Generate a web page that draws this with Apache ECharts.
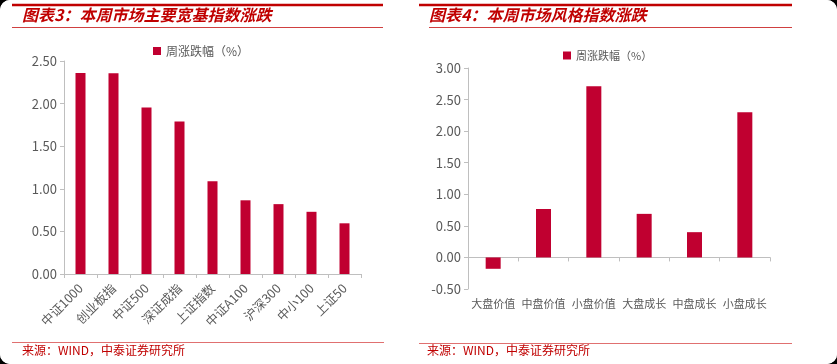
<!DOCTYPE html>
<html><head><meta charset="utf-8">
<script src="https://cdn.jsdelivr.net/npm/echarts@6/dist/echarts.min.js"></script>
<style>
html,body{margin:0;padding:0;background:#000;}
#c{width:837px;height:364px;background:#fff;border-radius:10px;overflow:hidden;}
</style></head>
<body><div id="c"></div>
<script>
const leftCategories = ['中证1000','创业板指','中证500','深证成指','上证指数','中证A100','沪深300','中小100','上证50'];
const leftValues = [2.36, 2.355, 1.955, 1.79, 1.09, 0.865, 0.82, 0.73, 0.595];
const rightCategories = ['大盘价值','中盘价值','小盘价值','大盘成长','中盘成长','小盘成长'];
const rightValues = [-0.18, 0.767, 2.71, 0.69, 0.40, 2.30];
const seriesName = '周涨跌幅（%）';
const leftTitle = '图表3：本周市场主要宽基指数涨跌';
const rightTitle = '图表4：本周市场风格指数涨跌';
const sourceText = '来源：WIND，中泰证券研究所';

const RED = '#c00030';
const TITLE_RED = '#c00000';
const GREY = '#595959';
const AXIS = '#bfbfbf';
const FONT = '"Noto Sans CJK SC", "Liberation Sans", sans-serif';

const chart = echarts.init(document.getElementById('c'), null, {renderer:'canvas'});

function yAxisCfg(gi, min, max) {
  return {
    type:'value', gridIndex:gi, min:min, max:max, interval:0.5,
    axisLine:{show:true, lineStyle:{color:AXIS, width:1}},
    axisTick:{show:true, length:4, lineStyle:{color:AXIS}},
    splitLine:{show:false},
    axisLabel:{color:GREY, fontSize:13, fontFamily:FONT, margin:7,
      formatter: v => v.toFixed(2)}
  };
}

const option = {
  animation:false,
  backgroundColor:'#fff',
  legend:[
    {left:148, top:40, itemWidth:8, itemHeight:8, icon:'rect', itemGap:5,
     data:[seriesName], textStyle:{color:GREY, fontSize:12, fontFamily:FONT}},
    {left:558, top:45, itemWidth:8, itemHeight:8, icon:'rect', itemGap:4,
     data:[seriesName], textStyle:{color:GREY, fontSize:11, fontFamily:FONT}}
  ],
  grid:[
    {left:64, top:61, width:297, height:213},
    {left:468, top:68, width:302, height:221}
  ],
  xAxis:[
    {type:'category', gridIndex:0, data:leftCategories,
     axisLine:{lineStyle:{color:AXIS}},
     axisTick:{show:true, length:4, lineStyle:{color:AXIS}},
     axisLabel:{rotate:45, interval:0, color:GREY, fontSize:12.5, fontFamily:FONT, margin:12}},
    {type:'category', gridIndex:1, data:rightCategories,
     axisLine:{onZero:true, lineStyle:{color:AXIS}},
     axisTick:{show:true, length:4, lineStyle:{color:AXIS}},
     axisLabel:{interval:0, color:GREY, fontSize:11, fontFamily:FONT, margin:9}}
  ],
  yAxis:[ yAxisCfg(0, 0, 2.5), yAxisCfg(1, -0.5, 3) ],
  series:[
    {name:seriesName, type:'bar', xAxisIndex:0, yAxisIndex:0, data:leftValues,
     barWidth:10, itemStyle:{color:RED}},
    {name:seriesName, type:'bar', xAxisIndex:1, yAxisIndex:1, data:rightValues,
     barWidth:15, itemStyle:{color:RED}}
  ],
  graphic:[
    {type:'line', shape:{x1:12, y1:5, x2:383, y2:5}, style:{stroke:TITLE_RED, lineWidth:2.5}},
    {type:'text', left:22, top:7, style:{text:leftTitle, fill:TITLE_RED,
      font:'italic bold 16px ' + FONT}},
    {type:'line', shape:{x1:12, y1:27.5, x2:383, y2:27.5}, style:{stroke:'#d04040', lineWidth:1}},
    {type:'line', shape:{x1:12, y1:342.5, x2:384, y2:342.5}, style:{stroke:'#e07070', lineWidth:1.2}},
    {type:'text', left:22, top:344, style:{text:sourceText, fill:TITLE_RED,
      font:'12px ' + FONT}},
    {type:'line', shape:{x1:419, y1:5, x2:792, y2:5}, style:{stroke:TITLE_RED, lineWidth:2.5}},
    {type:'text', left:429, top:7, style:{text:rightTitle, fill:TITLE_RED,
      font:'italic bold 16px ' + FONT}},
    {type:'line', shape:{x1:429, y1:27.5, x2:792, y2:27.5}, style:{stroke:'#d04040', lineWidth:1}},
    {type:'line', shape:{x1:419, y1:343.5, x2:792, y2:343.5}, style:{stroke:'#e07070', lineWidth:1.2}},
    {type:'text', left:427, top:344, style:{text:sourceText, fill:TITLE_RED,
      font:'12px ' + FONT}}
  ]
};
chart.setOption(option);
</script>
</body></html>
